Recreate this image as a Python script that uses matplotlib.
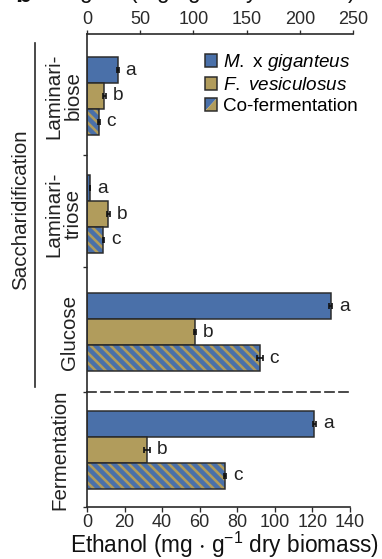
import matplotlib
matplotlib.use("Agg")
import matplotlib.pyplot as plt
from matplotlib.patches import Patch, Polygon, Rectangle
from matplotlib.legend_handler import HandlerBase
from matplotlib.lines import Line2D

plt.rcParams['font.family'] = ['Liberation Sans', 'DejaVu Sans']
plt.rcParams['mathtext.fontset'] = 'custom'
plt.rcParams['mathtext.rm'] = 'Liberation Sans'
plt.rcParams['mathtext.it'] = 'Liberation Sans:italic'
plt.rcParams['mathtext.default'] = 'regular'

# data
sacch_labels = ['Laminari-\nbiose', 'Laminari-\ntriose', 'Glucose']
mxg_sugar = [28.8, 2.8, 229.0]
fves_sugar = [16.3, 20.0, 101.5]
cof_sugar = [11.3, 15.3, 162.6]
mxg_sugar_err = [1.0, 0.3, 1.5]
fves_sugar_err = [1.5, 1.2, 0.8]
cof_sugar_err = [0.5, 0.5, 2.5]

ferm_labels = ['Fermentation']
mxg_ethanol = [121.0]
fves_ethanol = [31.8]
cof_ethanol = [73.4]
mxg_ethanol_err = [0.8]
fves_ethanol_err = [1.5]
cof_ethanol_err = [0.5]

letters = ['a', 'b', 'c']
series_names = [r'$\it{M.}$ x $\it{giganteus}$', r'$\it{F.\ vesiculosus}$', 'Co-fermentation']
top_ticks = [0, 50, 100, 150, 200, 250]
bottom_ticks = [0, 20, 40, 60, 80, 100, 120, 140]

BLUE = '#4a70a9'
OLIVE = '#b19c5c'
EDGE = '#2a2a2a'
DPI = 120
W, H = 382, 559
BAR_H = 0.22
FS = 10.8
HATCH = chr(92) * 4   # dense diagonal stripes, ~10 px apart

plt.rcParams['hatch.linewidth'] = 2.7


def draw_groups(ax, vals, errs):
    for k, (v_list, e_list) in enumerate(zip(vals, errs)):
        for g, (v, e) in enumerate(zip(v_list, e_list)):
            y = g + (k - 1) * BAR_H
            if k < 2:
                ax.barh(y, v, height=BAR_H, color=[BLUE, OLIVE][k],
                        edgecolor=EDGE, linewidth=0.9, zorder=2)
            else:
                ax.barh(y, v, height=BAR_H, color=OLIVE, edgecolor=BLUE,
                        hatch=HATCH, linewidth=0, zorder=2)
                ax.barh(y, v, height=BAR_H, color='none', edgecolor=EDGE,
                        linewidth=0.9, zorder=3)
            ax.errorbar(v, y, xerr=e, fmt='none', ecolor='#111111',
                        elinewidth=1.0, capsize=1.6, capthick=1.0, zorder=4)
            ax.annotate(letters[k], (v + e, y), xytext=(4.2, 0),
                        textcoords='offset points', va='center', ha='left',
                        fontsize=11.5, color='#222222')


fig = plt.figure(figsize=(W / DPI, H / DPI), dpi=DPI)
ax_top = fig.add_axes([87 / W, 1 - 392 / H, 266 / W, (392 - 34) / H])
ax_bot = fig.add_axes([87 / W, 1 - 507 / H, 263 / W, (507 - 392) / H])

draw_groups(ax_top, [mxg_sugar, fves_sugar, cof_sugar],
            [mxg_sugar_err, fves_sugar_err, cof_sugar_err])
draw_groups(ax_bot, [mxg_ethanol, fves_ethanol, cof_ethanol],
            [mxg_ethanol_err, fves_ethanol_err, cof_ethanol_err])

# top panel axes
ax_top.set_xlim(0, 250)
ax_top.set_ylim(2.508, -0.525)
ax_top.xaxis.tick_top()
ax_top.set_xticks(top_ticks)
ax_top.set_yticks([0.5, 1.45])
ax_top.set_yticklabels([])
for s in ['bottom', 'right']:
    ax_top.spines[s].set_visible(False)
for s in ['top', 'left']:
    ax_top.spines[s].set_linewidth(1.0)
    ax_top.spines[s].set_color(EDGE)
ax_top.tick_params(axis='x', direction='out', length=2.5, width=0.8,
                   pad=1.2, labelsize=FS, colors=EDGE)
ax_top.tick_params(axis='y', direction='out', length=2.5, width=0.8, colors=EDGE)
for g, lab in enumerate(sacch_labels):
    xpos = -0.088 if '\n' in lab else -0.064
    ax_top.text(xpos, g, lab, rotation=90, ha='center', va='center',
                transform=ax_top.get_yaxis_transform(), fontsize=12.3,
                linespacing=1.05, color='#222222')

# bottom panel axes
ax_bot.set_xlim(0, 140)
ax_bot.set_ylim(0.483, -0.49)
ax_bot.set_xticks(bottom_ticks)
ax_bot.set_yticks([-0.49, 0.483])
ax_bot.set_yticklabels([])
ax_bot.spines['right'].set_visible(False)
for s in ['bottom', 'left', 'top']:
    ax_bot.spines[s].set_linewidth(1.0)
    ax_bot.spines[s].set_color(EDGE)
ax_bot.spines['top'].set_linestyle((0, (5.4, 3.0)))
ax_bot.tick_params(axis='x', direction='out', length=3, width=0.8,
                   pad=1.2, labelsize=FS, colors=EDGE)
ax_bot.tick_params(axis='y', direction='out', length=2.5, width=0.8, colors=EDGE)
ax_bot.text(-0.103, 0, ferm_labels[0], rotation=90, ha='center', va='center',
            transform=ax_bot.get_yaxis_transform(), fontsize=12.3, color='#222222')

fig.text(224 / W, 1 - 553 / H, r'Ethanol (mg $\cdot$ g$^{-1}$ dry biomass)',
         ha='center', va='baseline', fontsize=13.6, color='#111111')

# clipped header of the panel
fig.text(52 / W, 1 + 1 / H, r'Sugars (mg $\cdot$ g$^{-1}$ dry biomass)',
         ha='left', va='baseline', fontsize=13.6, color='#111111')
fig.text(15 / W, 1 - 2 / H, 'b', ha='left', va='baseline', fontsize=16,
         weight='bold', color='#111111')

# saccharification bracket
fig.add_artist(Line2D([35 / W, 35 / W], [1 - 43 / H, 1 - 387 / H],
                      color=EDGE, linewidth=1.0))
fig.text(21 / W, 1 - 210 / H, 'Saccharidification', rotation=90,
         ha='center', va='center', fontsize=12.3, color='#222222')


class HandlerSplit(HandlerBase):
    def create_artists(self, legend, orig_handle, xdescent, ydescent,
                       width, height, fontsize, trans):
        x0, y0 = -xdescent, -ydescent
        up = Polygon([[x0, y0], [x0, y0 + height], [x0 + width, y0 + height]],
                     closed=True, facecolor=BLUE, edgecolor='none', transform=trans)
        lo = Polygon([[x0, y0], [x0 + width, y0], [x0 + width, y0 + height]],
                     closed=True, facecolor=OLIVE, edgecolor='none', transform=trans)
        box = Rectangle((x0, y0), width, height, facecolor='none',
                        edgecolor=EDGE, linewidth=0.9, transform=trans)
        return [up, lo, box]


handles = [Patch(facecolor=BLUE, edgecolor=EDGE, linewidth=0.9),
           Patch(facecolor=OLIVE, edgecolor=EDGE, linewidth=0.9),
           Patch(facecolor=OLIVE)]
fig.legend(handles, series_names, loc='upper left',
           bbox_to_anchor=(205 / W, 1 - 52 / H), frameon=False,
           fontsize=11.3, handlelength=0.65, handleheight=0.65,
           handletextpad=0.3, labelspacing=0.22, borderpad=0,
           borderaxespad=0, handler_map={handles[2]: HandlerSplit()})

fig.savefig('out.png', dpi=DPI)
